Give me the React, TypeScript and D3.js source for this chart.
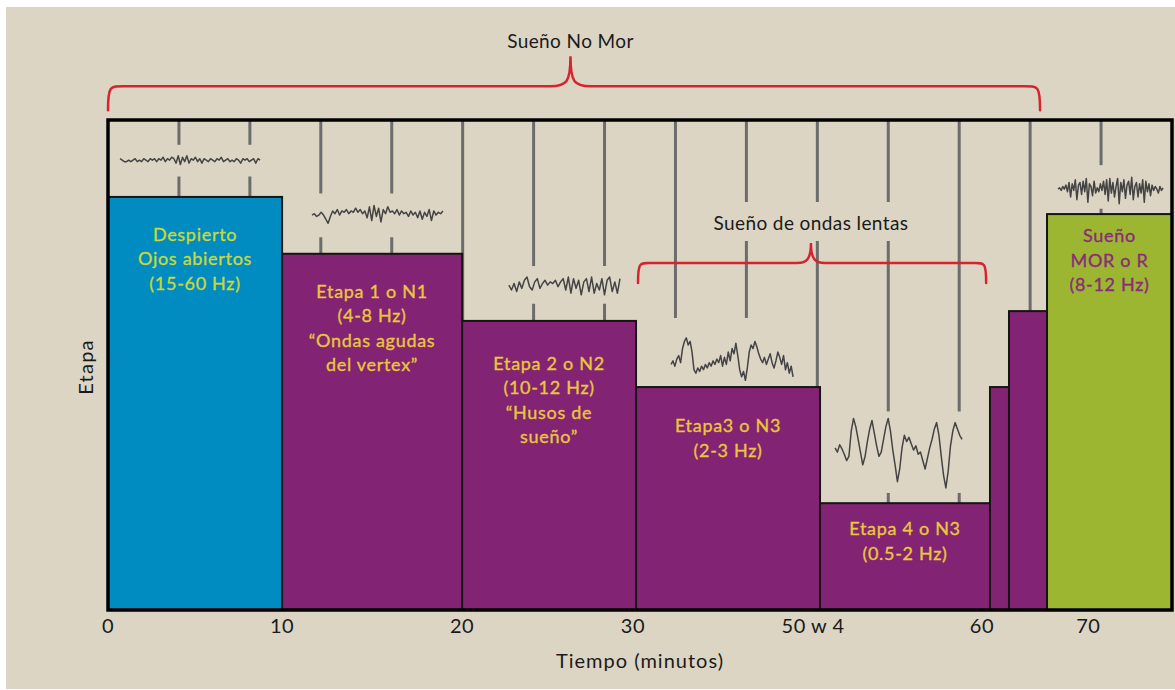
import React from 'react';
import * as d3 from 'd3';

const W = 1175;
const H = 690;

// ---- Data ----
const stageStart = [0, 12.27, 24.96, 37.22, 50.19, 62.17, 63.51, 66.19];
const stageEnd = [12.27, 24.96, 37.22, 50.19, 62.17, 63.51, 66.19, 75];
const stageLevel = [84.3, 72.7, 59.0, 45.5, 21.8, 45.5, 61.0, 80.8];
const stageKind = ['awake', 'nrem', 'nrem', 'nrem', 'nrem', 'nrem', 'nrem', 'rem'];
const stageLabels: string[][] = [
  ['Despierto', 'Ojos abiertos', '(15-60 Hz)'],
  ['Etapa 1 o N1', '(4-8 Hz)', '“Ondas agudas', 'del vertex”'],
  ['Etapa 2 o N2', '(10-12 Hz)', '“Husos de', 'sueño”'],
  ['Etapa3 o N3', '(2-3 Hz)'],
  ['Etapa 4 o N3', '(0.5-2 Hz)'],
  [],
  [],
  ['Sueño', 'MOR o R', '(8-12 Hz)'],
];

const tickValues = [0, 12.27, 24.96, 37.0, 49.7, 61.6, 69.1];
const tickLabels = ['0', '10', '20', '30', '50 w 4', '60', '70'];
const gridMinutes = [5, 10, 15, 20, 25, 30, 35, 40, 45, 50, 55, 60, 65, 70];

// EEG traces (arbitrary units, positive = up)
const traceAwake = [1, 0, -1, -1, 0, -1, 0, 1, -1, 0, -1, 1, 0, -1, 1, 0, 1, -1, 1, 0, 2, -1, 1, 0, 2, 1, -2, 3, -3, 2, -1, 3, -2, 1, 0, 2, -1, 1, -2, 1, 0, -1, 1, 0, -1, 1, 0, 2, -1, 0, 1, -1, 0, -1, 1, 0, -2, 1, 0, 1, -1, 0, 1, -2, 1, 0];
const traceN1 = [0, 1, -1, 0, 2, 0, -3, -6, -1, 3, 1, 4, 0, 3, 2, 4, 1, 3, 2, 5, 2, 4, 1, 3, -2, 6, -4, 7, -1, 5, -5, 4, 1, 6, 2, 3, 1, 4, 0, 3, 1, 2, -1, 3, 0, 2, -2, 3, -3, 2, -1, 4, -4, 3, 0, 2, 1, 3];
const traceN2 = [0, -3, 1, -4, 2, -2, 3, 5, -1, -3, 2, 4, -2, 1, 3, 0, 2, 1, 3, -1, 2, 4, -3, 5, -5, 4, -2, 3, -6, 2, 4, -4, 5, -5, 1, -3, 4, -6, 3, 5, -4, 2, -5, 4];
const traceN3 = [-3, -1, -4, 0, 2, -2, 6, 10, 12, 8, 10, 4, -6, -8, -5, -7, -4, -6, -3, -5, -2, -4, -1, -3, 0, -2, 2, -4, 1, -3, 4, -1, 6, 3, 9, 2, -6, -10, -7, -12, -5, 4, 8, 6, 10, 7, 3, 0, -2, 1, -3, 0, 3, -2, -5, -1, 4, 1, -3, 2, -6, -2, -8, -4, -10];
const traceN4 = [2, -2, 5, 1, -4, -10, -6, 18, 30, 22, 10, -2, -14, -6, 8, 20, 28, 16, 4, -6, -2, 10, 22, 30, 18, 0, -14, -30, -18, 2, 14, 8, 12, 6, 0, 4, -4, -2, -10, -18, -8, 2, 10, 20, 26, 14, -6, -24, -36, -20, 4, 18, 26, 20, 14, 10];
const traceREM = [0, 1, -1, 2, 0, 3, -2, 5, -6, 4, -1, 7, -8, 3, 5, -4, 6, -2, 8, -10, 4, 2, -5, 6, -3, 1, -2, 4, -1, 6, -4, 7, -9, 8, -3, 5, -6, 2, 8, -11, 5, -2, 7, -7, 3, 6, -4, 9, -8, 2, 5, -6, 4, -3, 7, -10, 6, -2, 4, -5, 3, -1, 2, 0, -3, 2, -1, 1];

const traces = [traceAwake, traceN1, traceN2, traceN3, traceN4, traceREM];
const traceFrom = [0.85, 14.38, 28.26, 39.69, 51.25, 66.97];
const traceTo = [10.72, 23.61, 36.09, 48.29, 60.2, 74.37];
const traceLevel = [91.8, 80.6, 66.3, 51.2, 32.65, 85.9];
const traceGain = [0.3, 0.28, 0.33, 0.36, 0.215, 0.27]; // level units per trace unit

const bracketLabels = ['Sueño No Mor', 'Sueño de ondas lentas'];
const bracketFrom = [0, 37.36];
const bracketTo = [65.7, 61.9];
const bracketPeak = [32.6, 49.55];
const bracketLineLevel = [106.9, 70.8];

// ---- Styles ----
const COLORS = {
  page: '#dcd5c4',
  awake: '#008bc1',
  nrem: '#832374',
  rem: '#9cb631',
  awakeText: '#c9d83a',
  nremText: '#eac63c',
  remText: '#8a2b7b',
  grid: '#6c6c6c',
  red: '#d7232f',
  text: '#1a1a1a',
};
const labelOffset = [44, 44, 49, 45, 32, 0, 0, 28];
const wavePad = [[11, 12], [12, 14], [11, 9], [20, 6], [7, 5], [12, 5]];
const FONT = 'Lato, "Open Sans", sans-serif';

export default function App() {
  const x = d3.scaleLinear().domain([0, 75]).range([108, 1172]);
  const y = d3.scaleLinear().domain([0, 100]).range([610, 120]);
  const top = y(100);
  const bottom = y(0);

  const waves = traces.map((vals, i) => {
    const xs = d3.scaleLinear().domain([0, vals.length - 1]).range([x(traceFrom[i]), x(traceTo[i])]);
    const yc = y(traceLevel[i]);
    const k = y(0) - y(traceGain[i]);
    const line = d3.line<number>().x((_, j) => xs(j)).y((v) => yc - v * k).curve(d3.curveLinear);
    const maxV = d3.max(vals) as number;
    const minV = d3.min(vals) as number;
    return {
      d: line(vals) as string,
      x0: x(traceFrom[i]),
      x1: x(traceTo[i]),
      gapTop: yc - maxV * k - wavePad[i][0],
      gapBottom: yc - minV * k + wavePad[i][1],
    };
  });

  const slowLabelX = x(49.55);
  const slowLabelY = 230;
  const labelGap = { x0: slowLabelX - 98, x1: slowLabelX + 98, top: 202, bottom: 241 };

  const gridSegs: { x: number; y1: number; y2: number }[] = [];
  gridMinutes.forEach((m) => {
    const gx = x(m);
    const gaps: [number, number][] = [];
    waves.forEach((w) => {
      if (gx >= w.x0 && gx <= w.x1) gaps.push([w.gapTop, w.gapBottom]);
    });
    if (gx >= labelGap.x0 && gx <= labelGap.x1) gaps.push([labelGap.top, labelGap.bottom]);
    gaps.sort((a, b) => a[0] - b[0]);
    let cur = top;
    gaps.forEach(([a, b]) => {
      if (a > cur) gridSegs.push({ x: gx, y1: cur, y2: a });
      cur = Math.max(cur, b);
    });
    if (cur < bottom) gridSegs.push({ x: gx, y1: cur, y2: bottom });
  });

  const bracketPath = (i: number, r: number, rp: number, endDrop: number, peakH: number) => {
    const x0 = x(bracketFrom[i]);
    const x1 = x(bracketTo[i]);
    const xp = x(bracketPeak[i]);
    const yl = y(bracketLineLevel[i]);
    const ye = yl + endDrop;
    const yp = yl - peakH;
    return [
      `M${x0},${ye}`,
      `C${x0},${yl - 2} ${x0 + 2},${yl} ${x0 + r},${yl}`,
      `L${xp - rp},${yl}`,
      `C${xp - 4},${yl} ${xp},${yl - 4} ${xp},${yp}`,
      `C${xp},${yl - 4} ${xp + 4},${yl} ${xp + rp},${yl}`,
      `L${x1 - r},${yl}`,
      `C${x1 - 2},${yl} ${x1},${yl - 2} ${x1},${ye}`,
    ].join(' ');
  };

  return (
    <svg width={W} height={H} style={{ position: 'absolute', left: 0, top: 0 }} fontFamily={FONT}>
      <rect x={0} y={0} width={W} height={H} fill="#ffffff" />
      <rect x={6} y={7} width={W - 6} height={H - 8} fill={COLORS.page} />

      <g stroke={COLORS.grid} strokeWidth={3}>
        {gridSegs.map((s, i) => (
          <line key={i} x1={s.x} x2={s.x} y1={s.y1} y2={s.y2} />
        ))}
      </g>

      <g fill="none" stroke="#444" strokeWidth={1.5} strokeLinejoin="round">
        {waves.map((w, i) => (
          <path key={i} d={w.d} />
        ))}
      </g>

      <g stroke="#151515" strokeWidth={2}>
        {stageStart.map((s, i) => (
          <rect
            key={i}
            x={x(s)}
            y={y(stageLevel[i])}
            width={x(stageEnd[i]) - x(s)}
            height={y(0) - y(stageLevel[i])}
            fill={COLORS[stageKind[i] as 'awake' | 'nrem' | 'rem']}
          />
        ))}
      </g>

      {stageLabels.map((lines, i) => {
        const cx = (x(stageStart[i]) + x(stageEnd[i])) / 2;
        const y0 = y(stageLevel[i]) + labelOffset[i];
        const fill = COLORS[(stageKind[i] + 'Text') as 'awakeText' | 'nremText' | 'remText'];
        return (
          <g key={i} fill={fill} stroke={fill} strokeWidth={0.35} fontSize={18} textAnchor="middle" letterSpacing={0.7}>
            {lines.map((t, j) => (
              <text key={j} x={cx} y={y0 + j * 24.5}>
                {t}
              </text>
            ))}
          </g>
        );
      })}

      <rect x={x(0)} y={top} width={x(75) - x(0)} height={bottom - top} fill="none" stroke="#000" strokeWidth={3.5} />

      <g fill="none" stroke={COLORS.red} strokeWidth={2.5} strokeLinecap="round">
        <path d={bracketPath(0, 20, 20, 24, 30)} />
        <path d={bracketPath(1, 14, 14, 20, 20)} />
      </g>
      <text x={x(bracketPeak[0])} y={48} textAnchor="middle" fontSize={19} letterSpacing={0.4} fill={COLORS.text}>
        {bracketLabels[0]}
      </text>
      <text x={slowLabelX} y={slowLabelY} textAnchor="middle" fontSize={19} letterSpacing={0.4} fill={COLORS.text}>
        {bracketLabels[1]}
      </text>

      <g fontSize={20} letterSpacing={0.5} fill={COLORS.text} textAnchor="middle">
        {tickValues.map((v, i) => (
          <text key={i} x={x(v)} y={633}>
            {tickLabels[i]}
          </text>
        ))}
      </g>

      <text x={640} y={668} textAnchor="middle" fontSize={20} letterSpacing={1} fill={COLORS.text}>
        Tiempo (minutos)
      </text>
      <text
        transform={`translate(93,367) rotate(-90)`}
        textAnchor="middle"
        fontSize={20}
        letterSpacing={1.2}
        fill={COLORS.text}
      >
        Etapa
      </text>
    </svg>
  );
}
